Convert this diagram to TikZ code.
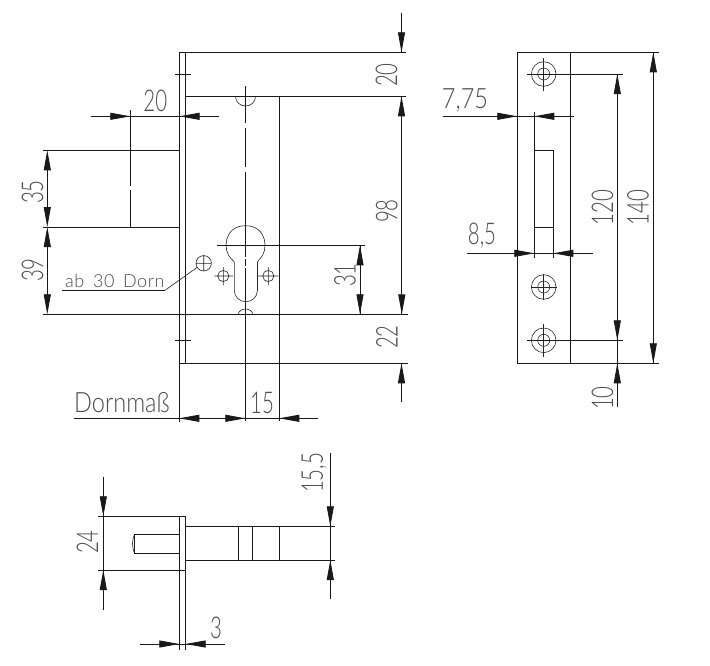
\documentclass[tikz,border=0pt]{standalone}
\usepackage{fontspec}
\setmainfont{Liberation Sans}
\newfontfamily\dimfont[FakeStretch=0.68]{Lato Light}
\newfontfamily\dimwide[FakeStretch=0.84]{Lato Light}
\newfontfamily\dimsmall[LetterSpace=3,WordSpace=1.6]{Lato Light}
\usetikzlibrary{arrows.meta}
\definecolor{txt}{gray}{0.3}
\tikzset{
  part/.style={line width=0.85pt,black!90},
  thin part/.style={line width=0.6pt,black!85},
  dim/.style={line width=0.85pt,black!90},
  arr/.style={-{Triangle[length=20pt,width=7pt]}, line width=0.85pt, black!90},
  lbl/.style={font=\dimfont\fontsize{30}{30}\selectfont,text=txt,inner sep=0pt},
  vlbl/.style={lbl,rotate=90},
  widelbl/.style={font=\dimwide\fontsize{28}{28}\selectfont,text=txt,inner sep=0pt},
  smalllbl/.style={font=\dimsmall\fontsize{18}{18}\selectfont,text=txt,inner sep=0pt},
}
\begin{document}
\begin{tikzpicture}[x=1pt,y=-1pt]
\useasboundingbox (0,0) rectangle (710,665);
\fill[white] (0,0) rectangle (710,665);
% ---- front view
\draw[part] (179.3,422) -- (179.3,52.3) -- (406,52.3);
\draw[part] (185.3,52.3) -- (185.3,363.3);
\draw[part] (185.3,96.3) -- (406,96.3);
\draw[part] (179.3,363.3) -- (408,363.3);
\draw[part] (43,314.3) -- (408,314.3);
\draw[part] (279.3,96.3) -- (279.3,421);
\draw[part] (245.3,86) -- (245.3,123) (245.3,128) -- (245.3,167) (245.3,172) -- (245.3,257) (245.3,259) -- (245.3,266) (245.3,268) -- (245.3,421);
\draw[part] (175,74.3) -- (191,74.3) (175,340.3) -- (191,340.3);
\draw[thin part] (235.5,96.3) .. controls (235.5,102) and (240,106) .. (245.5,106) .. controls (251,106) and (255.5,102) .. (255.5,96.3);
\draw[thin part] (238,314.3) .. controls (239,310.8) and (242,309) .. (245.5,309) .. controls (249,309) and (252,310.8) .. (253,314.3);
% cylinder
\draw[thin part] (234.3,262) -- (231.7,259.3) .. controls (222,251) and (223.5,225.7) .. (245.6,225.7) .. controls (267.5,225.7) and (269,251) .. (259.5,259.3) -- (257.5,262) -- (257.5,290) .. controls (257.5,297) and (252,301.7) .. (245.9,301.7) .. controls (239.5,301.7) and (234.3,297) .. (234.3,290) -- cycle;
\draw[part] (217,245.3) -- (365,245.3);
% holes
\draw[thin part] (223.3,276) circle[radius=5.6] (214.3,276) -- (233,276) (223.3,267) -- (223.3,285.3);
\draw[thin part] (268.3,276) circle[radius=5.6] (257.3,276) -- (278.3,276) (268.3,267) -- (268.3,285.3);
\draw[thin part] (203.7,263.3) circle[radius=7.7] (195.7,263.3) -- (211.7,263.3) (203.7,255) -- (203.7,271.3);
\draw[thin part] (197,267.5) -- (165,290.3);
\draw[part] (165,290.3) -- (62.3,290.3);
\node[smalllbl,anchor=base west] (ab) at (65,287.7) {ab 30 Dorn};
% left dims
\draw[part] (43,150.3) -- (179.3,150.3) (43,227) -- (179.3,227);
\draw[part] (130.3,110) -- (130.3,186) (130.3,190) -- (130.3,227);
\draw[dim] (47.3,170) -- (47.3,207) (47.3,247) -- (47.3,294);
\draw[arr] (47.3,180) -- (47.3,150.3);
\draw[arr] (47.3,200) -- (47.3,227);
\draw[arr] (47.3,257) -- (47.3,227);
\draw[arr] (47.3,284) -- (47.3,314.3);
\node[vlbl] (d35) at (32.5,192) {35};
\node[vlbl] (d39) at (32.5,270) {39};
% dim 20 horizontal
\draw[dim] (91,116.3) -- (219,116.3);
\draw[arr] (100,116.3) -- (130.3,116.3);
\draw[arr] (210,116.3) -- (179.5,116.3);
\node[lbl] (d20a) at (155.3,101.3) {20};
% right dims
\draw[dim] (401.5,13) -- (401.5,52.3) (401.5,96.3) -- (401.5,314.3) (401.5,363.3) -- (401.5,402);
\draw[arr] (401.5,22) -- (401.5,52.3);
\draw[arr] (401.5,126) -- (401.5,96.3);
\draw[arr,line width=1.2pt] (401.8,275) -- (401.8,314.3);
\draw[arr] (401.5,393) -- (401.5,363.3);
\node[vlbl] (d20b) at (386.5,75) {20};
\node[vlbl] (d98) at (386.7,211) {98};
\node[vlbl] (d22) at (387,337) {22};
% 31
\draw[dim] (360,245.3) -- (360,314.3);
\draw[arr] (360,275) -- (360,245.3);
\draw[arr] (360,284) -- (360,314.3);
\node[vlbl] (d31) at (345,275) {31};
% 15 / Dornmass
\draw[dim] (74,418.3) -- (318,418.3);
\draw[arr] (209,418.3) -- (179.3,418.3);
\draw[arr] (215,418.3) -- (245.3,418.3);
\draw[arr] (309,418.3) -- (279.3,418.3);
\node[lbl] (d15) at (262,403) {15};
\node[widelbl,anchor=base west] (dm) at (74,412.5) {Dornmaß};
% ---- right view
\draw[part] (517.3,52.3) rectangle (570.3,363.3);
\draw[part] (570.3,52.3) -- (659,52.3) (570.3,363.3) -- (659,363.3);
\draw[part] (534.3,112) -- (534.3,257.5) (553.3,150) -- (553.3,257.5);
\draw[part] (534.3,150) -- (553.3,150) (534.3,227) -- (553.3,227);
\draw[thin part] (543.7,74) circle[radius=12.3] (543.7,74) circle[radius=6];
\draw[thin part] (543.7,58.3) -- (543.7,90.7);
\draw[part] (527,74) -- (622.7,74);
\draw[thin part] (543.7,287) circle[radius=12.3] (543.7,287) circle[radius=6];
\draw[thin part] (543.7,274) -- (543.7,300) (531,287) -- (557,287);
\draw[thin part] (543.7,340.3) circle[radius=12.3] (543.7,340.3) circle[radius=6];
\draw[thin part] (543.7,324) -- (543.7,356.7);
\draw[part] (527,340.3) -- (622.7,340.3);
\draw[dim] (443,116.3) -- (574,116.3);
\draw[arr] (487,116.3) -- (517.3,116.3);
\draw[arr] (564,116.3) -- (534.3,116.3);
\node[widelbl] (d775) at (465,100) {7,75};
\draw[dim] (467,253.3) -- (593,253.3);
\draw[arr] (505,253.3) -- (534.3,253.3);
\draw[arr] (583,253.3) -- (553.3,253.3);
\node[lbl] (d85) at (482,236) {8,5};
\draw[dim] (617.3,74) -- (617.3,407);
\draw[arr] (617.3,104) -- (617.3,74);
\draw[arr] (617.3,311) -- (617.3,340.3);
\draw[arr] (617.3,393) -- (617.3,363.3);
\draw[dim] (653.3,52.3) -- (653.3,363.3);
\draw[arr] (653.3,82) -- (653.3,52.3);
\draw[arr] (653.3,333) -- (653.3,363.3);
\node[vlbl] (d120) at (602.5,207.7) {120};
\node[vlbl] (d140) at (638,207.7) {140};
\node[vlbl] (d10) at (602.5,398) {10};
% ---- bottom view
\draw[part] (179.3,650) -- (179.3,516.3) (185.7,516.3) -- (185.7,650);
\draw[part] (98,516.3) -- (185.7,516.3) (98,570) -- (185.7,570);
\draw[part] (179.3,534.3) -- (134.5,534.3) -- (134.5,553.3) -- (179.3,553.3);
\draw[thin part] (134.5,534.3) .. controls (131.8,540) and (131.8,547) .. (134.5,553.3);
\draw[part] (185.7,526.3) -- (335,526.3) (185.7,560) -- (335,560);
\draw[part] (238.3,526.3) -- (238.3,560) (252.3,526.3) -- (252.3,560) (279.3,526.3) -- (279.3,560);
\draw[dim] (330.3,453) -- (330.3,599);
\draw[arr] (330.3,496) -- (330.3,526.3);
\draw[arr] (330.3,590) -- (330.3,560);
\node[vlbl] (d155) at (314,473) {15,5};
\draw[dim] (103.3,477) -- (103.3,610);
\draw[arr] (103.3,486) -- (103.3,516.3);
\draw[arr] (103.3,600) -- (103.3,570);
\node[vlbl] (d24) at (87.5,542) {24};
\draw[dim] (140,644) -- (225,644);
\draw[arr] (149,644) -- (179.3,644);
\draw[arr] (216,644) -- (185.7,644);
\node[lbl] (d3) at (216,628) {3};
\end{tikzpicture}
\end{document}
